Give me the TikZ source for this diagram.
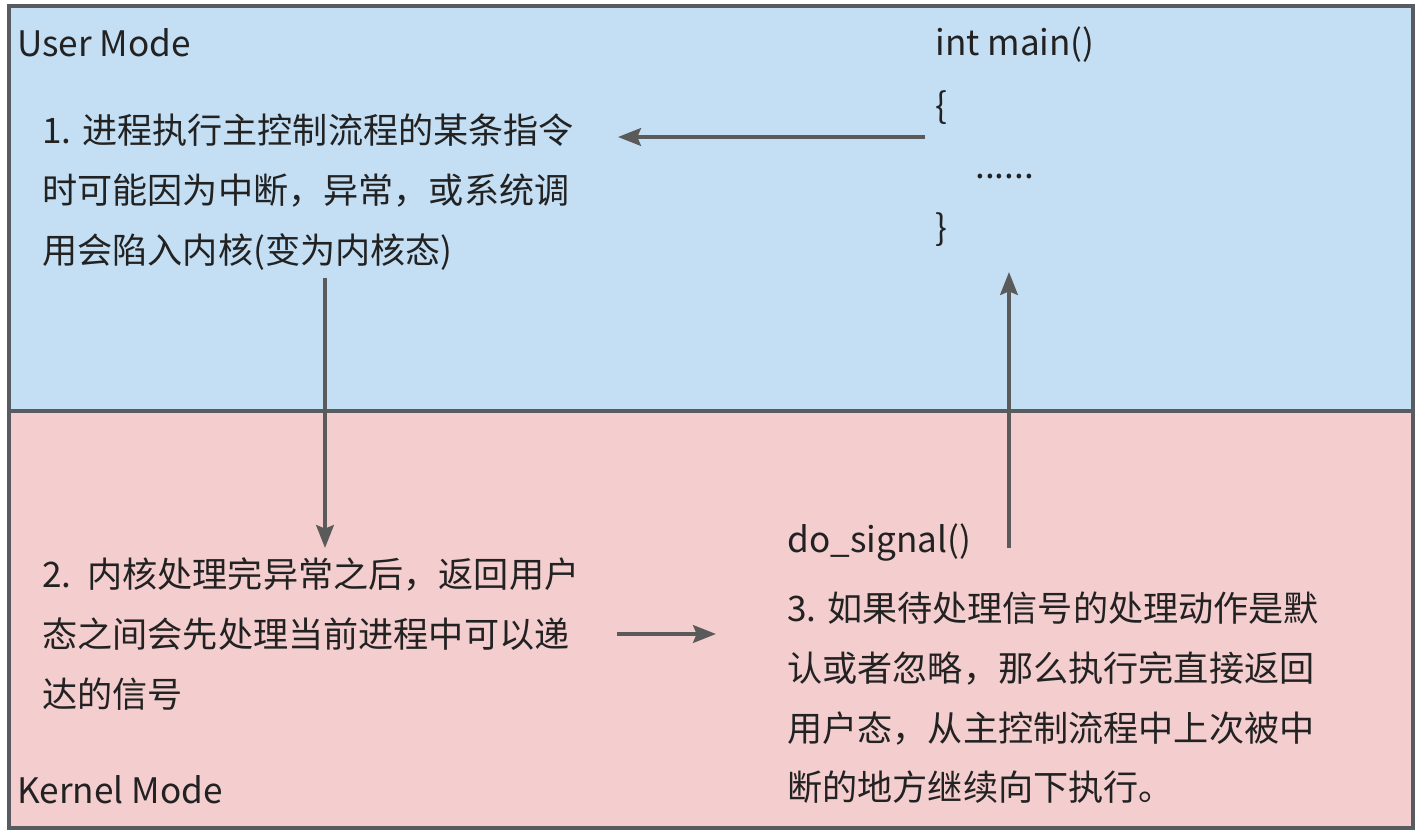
\documentclass[tikz,border=0pt]{standalone}
\usepackage{fontspec}
\setmainfont{Noto Sans CJK SC}
\usetikzlibrary{arrows.meta,positioning}
\definecolor{umblue}{HTML}{C4DFF4}
\definecolor{kmpink}{HTML}{F4CDCF}
\definecolor{frgray}{HTML}{585C60}
\definecolor{argray}{HTML}{5A5A5A}
\definecolor{txdark}{HTML}{222222}

\begin{document}
\begin{tikzpicture}[
  x=0.02cm, y=-0.02cm,
  zone/.style={draw=frgray, line width=1.8pt},
  txt/.style={font=\fontsize{20}{34}\selectfont, text=txdark, inner sep=0pt, anchor=west},
  para/.style={txt, align=left},
  arrow/.style={-{Stealth[length=13pt, width=10pt, inset=2pt]}, argray, line width=2.3pt},
]
  \useasboundingbox (0,0) rectangle (1428,834);

  % User Mode / Kernel Mode
  \filldraw[zone, fill=umblue] (9,6) rectangle (1413,411);
  \filldraw[zone, fill=kmpink] (9,411) rectangle (1413,828);

  \node[txt] (user)   at (17,43)  {User Mode};
  \node[txt] (kernel) at (17,790) {Kernel Mode};

  % int main()
  \node[txt] (main)   at (935,45)  {int main()};
  \node[txt] (lbrace) at (935,108) {\{};
  \node[txt] (dots)   at (975,177) {......};
  \node[txt] (rbrace) at (935,230) {\}};

  % Schritte
  \node[para] (step1) at (42,192)
    {1. 进程执行主控制流程的某条指令\\时可能因为中断，异常，或系统调\\用会陷入内核(变为内核态)};
  \node[para] (step2) at (42,634)
    {2.\ \ 内核处理完异常之后，返回用户\\态之间会先处理当前进程中可以递\\达的信号};
  \node[txt] (dosig) at (787,543) {do\_signal()};
  \node[para] (step3) at (787,698)
    {3. 如果待处理信号的处理动作是默\\认或者忽略，那么执行完直接返回\\用户态，从主控制流程中上次被中\\断的地方继续向下执行。};

  % Pfeile
  \coordinate (call)   at (925,137);
  \coordinate (trap)   at (618,137);
  \coordinate (down0)  at (325,278);
  \coordinate (down1)  at (325,548);
  \coordinate (side0)  at (617,634);
  \coordinate (side1)  at (716,634);
  \coordinate (up0)    at (1009,548);
  \coordinate (up1)    at (1009,272);

  \draw[arrow] (call) -- (trap);
  \draw[arrow] (down0) -- (down1);
  \draw[arrow] (side0) -- (side1);
  \draw[arrow] (up0) -- (up1);

\end{tikzpicture}
\end{document}
